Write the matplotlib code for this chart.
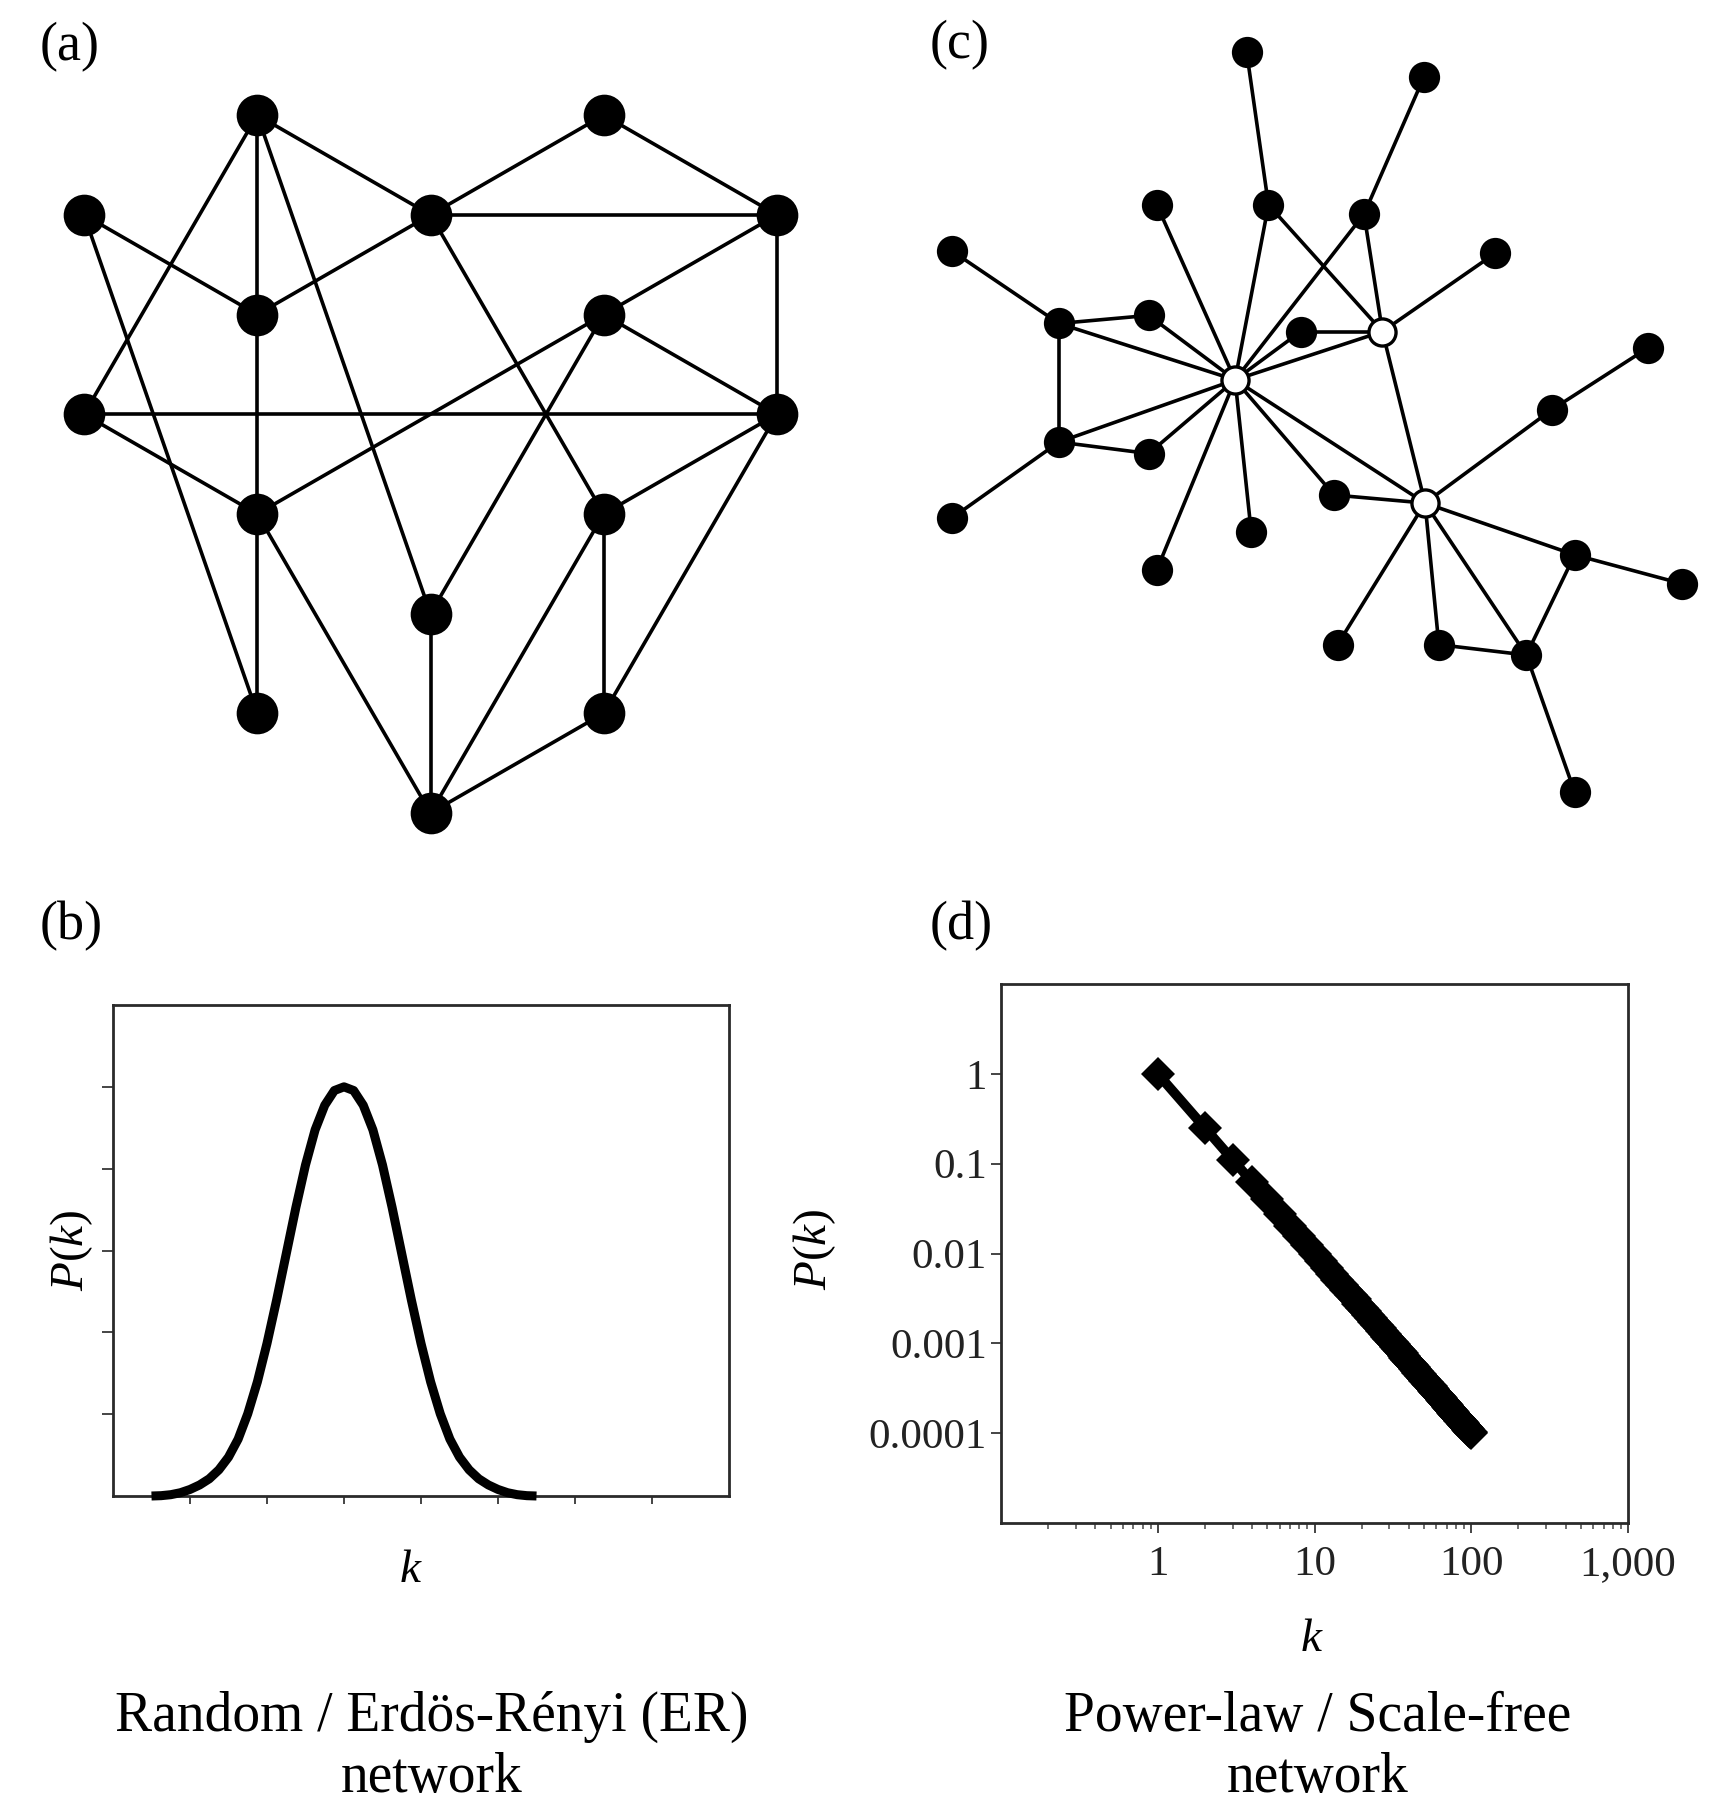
import matplotlib
matplotlib.use("Agg")
import matplotlib.pyplot as plt
from matplotlib.ticker import FixedLocator, FixedFormatter, NullFormatter, LogLocator

plt.rcParams['font.family'] = ['Liberation Serif', 'DejaVu Serif']
plt.rcParams['mathtext.fontset'] = 'custom'
plt.rcParams['mathtext.rm'] = 'Liberation Serif'
plt.rcParams['mathtext.it'] = 'Liberation Serif:italic'

# ---------------- data ----------------
# (a) random / ER network: grid column and row of each node
er_col = [1, 3, 0, 2, 4, 1, 3, 0, 4, 1, 3, 2, 1, 3, 2]
er_row = [0, 0, 1, 1, 1, 2, 2, 3, 3, 4, 4, 5, 6, 6, 7]
er_edges = [(0, 3), (0, 7), (0, 5), (5, 9), (9, 12), (0, 11), (2, 5), (2, 12),
            (5, 3), (3, 1), (3, 4), (1, 4), (3, 10), (4, 6), (4, 8), (6, 8),
            (6, 9), (6, 11), (7, 8), (7, 9), (8, 10), (8, 13), (9, 14),
            (10, 13), (10, 14), (11, 14), (13, 14)]

# (c) scale-free network: layout positions (first three nodes are hubs)
sf_x = [1073, 1201, 1238, 1083, 1237, 1005, 1102, 1185, 827, 1299, 920, 998,
        1130, 1432, 1348, 920, 998, 827, 1159, 1087, 1005, 1368, 1461, 1162,
        1250, 1326, 1368]
sf_y = [330, 288, 437, 45, 67, 178, 178, 186, 218, 220, 281, 274, 288, 302,
        356, 384, 394, 450, 430, 462, 495, 482, 507, 560, 560, 569, 688]
sf_hub = [True, True, True] + [False] * 24
sf_edges = [(3, 6), (4, 7), (6, 0), (6, 1), (7, 0), (7, 1), (5, 0), (8, 10),
            (10, 11), (10, 0), (10, 15), (11, 0), (12, 1), (12, 0), (0, 1),
            (9, 1), (1, 2), (15, 0), (15, 16), (16, 0), (15, 17), (0, 20),
            (0, 19), (0, 18), (0, 2), (18, 2), (14, 2), (13, 14), (2, 21),
            (21, 22), (2, 23), (2, 24), (2, 25), (24, 25), (21, 25), (25, 26)]

# (b) degree distribution of the ER network
er_k = [0.5, 0.625, 0.75, 0.875, 1.0, 1.125, 1.25, 1.375, 1.5, 1.625, 1.75,
        1.875, 2.0, 2.125, 2.25, 2.375, 2.5, 2.625, 2.75, 2.875, 3.0,
        3.125, 3.25, 3.375, 3.5, 3.625, 3.75, 3.875, 4.0, 4.125, 4.25,
        4.375, 4.5, 4.625, 4.75, 4.875, 5.0, 5.125, 5.25, 5.375, 5.5]
er_p = [0.0, 0.004, 0.016, 0.04, 0.08, 0.135, 0.21, 0.32, 0.475, 0.695, 1.005,
        1.395, 1.865, 2.395, 2.96, 3.525, 4.045, 4.475, 4.775, 4.955, 5.0,
        4.955, 4.775, 4.475, 4.045, 3.525, 2.96, 2.395, 1.865, 1.395, 1.005,
        0.695, 0.475, 0.32, 0.21, 0.135, 0.08, 0.04, 0.016, 0.004, 0.0]
er_xticks = [1, 2, 3, 4, 5, 6, 7]
er_yticks = [1, 2, 3, 4, 5]

# (d) power-law degree distribution
sf_k = list(range(1, 101))
sf_p = [1, 0.25, 0.111, 0.0625, 0.04, 0.0278, 0.0204, 0.0156, 0.0123, 0.01,
        0.00826, 0.00694, 0.00592, 0.0051, 0.00444, 0.00391, 0.00346, 0.00309, 0.00277, 0.0025,
        0.00227, 0.00207, 0.00189, 0.00174, 0.0016, 0.00148, 0.00137, 0.00128, 0.00119, 0.00111,
        0.00104, 0.000977, 0.000918, 0.000865, 0.000816, 0.000772, 0.00073, 0.000693, 0.000657, 0.000625,
        0.000595, 0.000567, 0.000541, 0.000517, 0.000494, 0.000473, 0.000453, 0.000434, 0.000416, 0.0004,
        0.000384, 0.00037, 0.000356, 0.000343, 0.000331, 0.000319, 0.000308, 0.000297, 0.000287, 0.000278,
        0.000269, 0.00026, 0.000252, 0.000244, 0.000237, 0.00023, 0.000223, 0.000216, 0.00021, 0.000204,
        0.000198, 0.000193, 0.000188, 0.000183, 0.000178, 0.000173, 0.000169, 0.000164, 0.00016, 0.000156,
        0.000152, 0.000149, 0.000145, 0.000142, 0.000138, 0.000135, 0.000132, 0.000129, 0.000126, 0.000123,
        0.000121, 0.000118, 0.000116, 0.000113, 0.000111, 0.000109, 0.000106, 0.000104, 0.000102, 0.0001]
sf_xticks = [1, 10, 100, 1000]
sf_xticklabels = ['1', '10', '100', '1,000']
sf_yticks = [1e-4, 1e-3, 1e-2, 1e-1, 1]
sf_yticklabels = ['0.0001', '0.001', '0.01', '0.1', '1']

title_b = ['Random / Erdös-Rényi (ER)', 'network']
title_d = ['Power-law / Scale-free', 'network']

# ---------------- figure ----------------
W, H = 1722, 1805
fig = plt.figure(figsize=(W / 100, H / 100), dpi=100)
fig.patch.set_facecolor('white')


def fx(px):
    return px / W


def fy(py):
    return 1 - py / H


EDGE_LW = 2.6

# (a)
ax_a = fig.add_axes([0, 0.5153, 0.5, 0.4847])
ax_a.set_xlim(-0.485, 4.485)
ax_a.set_ylim(7.621, -1.155)
ax_a.axis('off')
for i, j in er_edges:
    ax_a.plot([er_col[i], er_col[j]], [er_row[i], er_row[j]], color='black',
              lw=EDGE_LW, zorder=1, solid_capstyle='butt')
ax_a.plot(er_col, er_row, 'o', color='black', ms=30, mew=0, zorder=2,
          linestyle='none')

# (c)
ax_c = fig.add_axes([0.5, 0.5153, 0.5, 0.4847])
ax_c.set_xlim(748, 1496)
ax_c.set_ylim(760, 0)
ax_c.axis('off')
for i, j in sf_edges:
    ax_c.plot([sf_x[i], sf_x[j]], [sf_y[i], sf_y[j]], color='black',
              lw=EDGE_LW, zorder=1, solid_capstyle='butt')
fx_, fy_ = [], []
hx, hy = [], []
for x, y, h in zip(sf_x, sf_y, sf_hub):
    if h:
        hx.append(x); hy.append(y)
    else:
        fx_.append(x); fy_.append(y)
ax_c.plot(fx_, fy_, 'o', color='black', ms=22.5, mew=0, zorder=2, linestyle='none')
ax_c.plot(hx, hy, 'o', mfc='white', mec='black', ms=19.5, mew=2.4, zorder=3,
          linestyle='none')

SPINE_C = '#2a2a2a'

# (b)
ax_b = fig.add_axes([113 / W, 1 - 1496 / H, 616 / W, 491 / H])
ax_b.plot(er_k, er_p, color='black', lw=6.5, clip_on=False,
          solid_joinstyle='round', solid_capstyle='butt', zorder=3)
ax_b.set_xlim(0, 8)
ax_b.set_ylim(0, 6)
ax_b.set_xticks(er_xticks)
ax_b.set_yticks(er_yticks)
ax_b.set_xticklabels([])
ax_b.set_yticklabels([])
ax_b.tick_params(axis='x', direction='out', length=6, width=1.4, colors='#444444')
ax_b.tick_params(axis='y', direction='out', length=8, width=1.4, colors='#444444')
for s in ax_b.spines.values():
    s.set_color(SPINE_C)
    s.set_linewidth(2.0)
ax_b.text(-0.068, 0.5, r'$P(k)$', transform=ax_b.transAxes, rotation=90,
          ha='center', va='center', fontsize=34)
ax_b.text(0.484, -0.153, r'$k$', transform=ax_b.transAxes, ha='center',
          va='center', fontsize=34)

# (d)
ax_d = fig.add_axes([1001 / W, 1 - 1523 / H, 627 / W, 539 / H])
ax_d.plot(sf_k, sf_p, color='black', lw=7, marker='D', ms=17, mfc='black',
          mec='black', mew=0, zorder=3, solid_capstyle='butt')
ax_d.set_xscale('log')
ax_d.set_yscale('log')
ax_d.set_xlim(0.1, 1000)
ax_d.set_ylim(1e-5, 10)
ax_d.xaxis.set_major_locator(FixedLocator(sf_xticks))
ax_d.xaxis.set_major_formatter(FixedFormatter(sf_xticklabels))
ax_d.xaxis.set_minor_locator(LogLocator(base=10, subs=[2, 3, 4, 5, 6, 7, 8, 9]))
ax_d.xaxis.set_minor_formatter(NullFormatter())
ax_d.yaxis.set_major_locator(FixedLocator(sf_yticks))
ax_d.yaxis.set_major_formatter(FixedFormatter(sf_yticklabels))
ax_d.yaxis.set_minor_locator(LogLocator(base=10, subs=[2, 5, 8]))
ax_d.yaxis.set_minor_formatter(NullFormatter())
ax_d.tick_params(which='major', direction='out', length=7, width=1.4,
                 colors='#444444', labelcolor='#222222', labelsize=31)
ax_d.tick_params(which='minor', direction='out', length=4.5, width=1.2,
                 colors='#555555')
ax_d.tick_params(axis='x', which='major', pad=9)
ax_d.tick_params(axis='y', which='major', pad=3)
for s in ax_d.spines.values():
    s.set_color(SPINE_C)
    s.set_linewidth(2.0)
ax_d.text(-0.297, 0.508, r'$P(k)$', transform=ax_d.transAxes, rotation=90,
          ha='center', va='center', fontsize=34)
ax_d.text(0.496, -0.217, r'$k$', transform=ax_d.transAxes, ha='center',
          va='center', fontsize=34)

# panel letters
fig.text(fx(40), fy(60), '(a)', fontsize=39, ha='left', va='baseline')
fig.text(fx(930), fy(58), '(c)', fontsize=39, ha='left', va='baseline')
fig.text(fx(40), fy(939), '(b)', fontsize=39, ha='left', va='baseline')
fig.text(fx(930), fy(939), '(d)', fontsize=39, ha='left', va='baseline')

# bottom titles
fig.text(fx(432), fy(1731), title_b[0], fontsize=40, ha='center', va='baseline')
fig.text(fx(432), fy(1792), title_b[1], fontsize=40, ha='center', va='baseline')
fig.text(fx(1318), fy(1731), title_d[0], fontsize=40, ha='center', va='baseline')
fig.text(fx(1318), fy(1792), title_d[1], fontsize=40, ha='center', va='baseline')

fig.savefig('out.png', dpi=100, facecolor='white')
